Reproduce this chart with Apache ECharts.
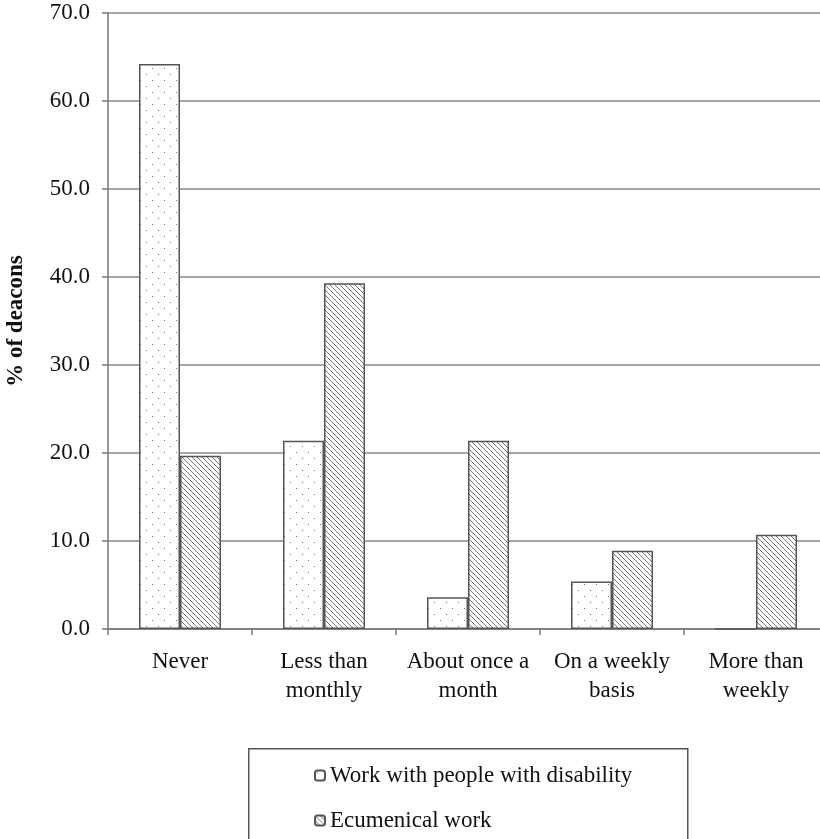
<!DOCTYPE html>
<html><head><meta charset="utf-8">
<script src="https://cdn.jsdelivr.net/npm/echarts@6/dist/echarts.min.js"></script>
<style>html,body{margin:0;padding:0;background:#fff}#c{width:820px;height:839px}</style>
</head><body><div id="c"></div>
<script>
const categories = ['Never', 'Less than\nmonthly', 'About once a\nmonth', 'On a weekly\nbasis', 'More than\nweekly'];
const seriesNames = ['Work with people with disability', 'Ecumenical work'];
const disabilityValues = [64.2, 21.4, 3.6, 5.4, 0];
const ecumenicalValues = [19.7, 39.3, 21.4, 8.9, 10.7];
const yTicks = { min: 0, max: 70, interval: 10 };

function dotPattern() {
  const c = document.createElement('canvas'); c.width = 12; c.height = 12;
  const g = c.getContext('2d'); g.fillStyle = '#fff'; g.fillRect(0,0,12,12);
  g.fillStyle = '#7a7a7a';
  g.fillRect(2,2,1,1); g.fillRect(8,8,1,1);
  return c;
}
function hatchPattern() {
  const s = 5;
  const c = document.createElement('canvas'); c.width = s; c.height = s;
  const g = c.getContext('2d'); g.fillStyle = '#fff'; g.fillRect(0,0,s,s);
  g.strokeStyle = '#777'; g.lineWidth = 1;
  g.beginPath();
  g.moveTo(-1,-1); g.lineTo(s+1,s+1);
  g.moveTo(-1,s-1); g.lineTo(1,s+1);
  g.moveTo(s-1,-1); g.lineTo(s+1,1);
  g.stroke();
  return c;
}
const FONT = '"Liberation Serif", "DejaVu Serif", serif';
const legendText = { fontFamily: FONT, fontSize: 23, color: '#111' };
const chart = echarts.init(document.getElementById('c'));
chart.setOption({
  backgroundColor: '#fff',
  animation: false,
  textStyle: { fontFamily: FONT, color: '#111' },
  grid: { left: 108, top: 13, width: 720, height: 616, containLabel: false, outerBoundsMode: 'none' },
  xAxis: {
    type: 'category', data: categories,
    axisLine: { lineStyle: { color: '#777', width: 1.5 } },
    axisTick: { show: true, length: 6, lineStyle: { color: '#777', width: 1.5 } },
    axisLabel: { fontFamily: FONT, fontSize: 23, color: '#111', margin: 18, lineHeight: 29, interval: 0 }
  },
  yAxis: {
    type: 'value', min: yTicks.min, max: yTicks.max, interval: yTicks.interval,
    name: '% of deacons', nameLocation: 'middle', nameGap: 80, nameRotate: 90,
    nameTextStyle: { fontFamily: FONT, fontSize: 23, fontWeight: 'bold', color: '#111' },
    axisLine: { show: true, lineStyle: { color: '#777', width: 1.5 } },
    axisTick: { show: true, length: 6, lineStyle: { color: '#777', width: 1.5 } },
    splitLine: { lineStyle: { color: '#888', width: 1.5 } },
    axisLabel: { fontFamily: FONT, fontSize: 23, color: '#111', margin: 18, formatter: v => v.toFixed(1) }
  },
  graphic: [{
    type: 'rect', left: 248, top: 748, z: 0,
    shape: { width: 439, height: 110 },
    style: { fill: '#fff', stroke: '#555', lineWidth: 1.5 }
  }],
  legend: [
    { left: 314, top: 764, padding: 0, itemWidth: 10, itemHeight: 10, itemGap: 0,
      textStyle: legendText, data: [seriesNames[0]] },
    { left: 314, top: 809, padding: 0, itemWidth: 10, itemHeight: 10, itemGap: 0,
      textStyle: legendText, data: [seriesNames[1]] }
  ],
  series: [
    { name: seriesNames[0], type: 'bar', data: disabilityValues, barWidth: 41, barGap: '0%',
      itemStyle: { color: { image: dotPattern(), repeat: 'repeat' }, borderColor: '#555', borderWidth: 1.5 } },
    { name: seriesNames[1], type: 'bar', data: ecumenicalValues, barWidth: 41, barGap: '0%',
      itemStyle: { color: { image: hatchPattern(), repeat: 'repeat' }, borderColor: '#555', borderWidth: 1.5 } }
  ]
});
</script></body></html>
